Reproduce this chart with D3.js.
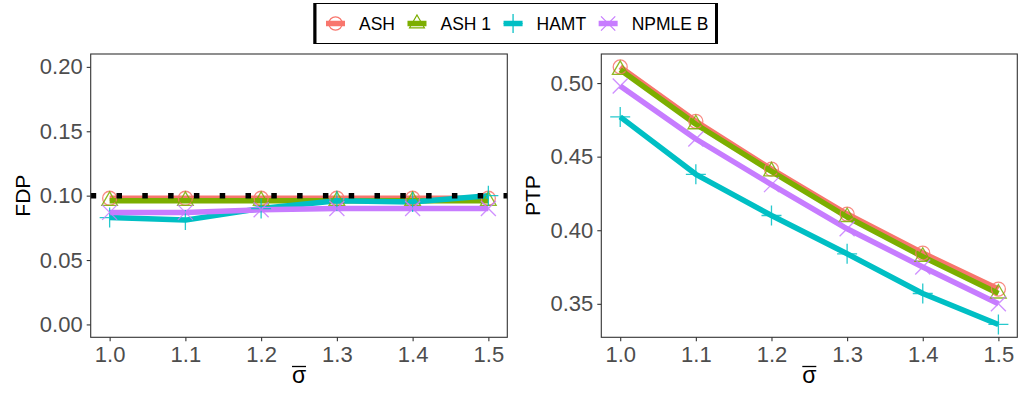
<!DOCTYPE html>
<html>
<head>
<meta charset="utf-8">
<script src="https://cdn.jsdelivr.net/npm/d3@7"></script>
<style>
  body { margin: 0; background: #fff; }
  svg { font-family: "Liberation Sans", Arial, sans-serif; }
</style>
</head>
<body>
<div id="chart"></div>
<script>
// data
const sigmaBar = [1.0, 1.1, 1.2, 1.3, 1.4, 1.5];
const methods = ["ASH", "ASH 1", "HAMT", "NPMLE B"];
const colors = ["#F8766D", "#7CAE00", "#00BFC4", "#C77CFF"];
const shapes = ["circle", "triangle", "plus", "cross"];

const fdpASH = [0.098, 0.098, 0.098, 0.098, 0.098, 0.098];
const fdpASH1 = [0.096, 0.096, 0.096, 0.096, 0.096, 0.096];
const fdpHAMT = [0.083, 0.081, 0.090, 0.096, 0.095, 0.100];
const fdpNPMLE = [0.087, 0.087, 0.089, 0.090, 0.090, 0.090];
const fdpTarget = 0.10;

const ptpASH = [0.511, 0.474, 0.4415, 0.411, 0.3845, 0.360];
const ptpASH1 = [0.509, 0.472, 0.440, 0.409, 0.382, 0.357];
const ptpHAMT = [0.477, 0.438, 0.410, 0.384, 0.357, 0.336];
const ptpNPMLE = [0.498, 0.462, 0.431, 0.401, 0.375, 0.350];

const xTicks = [1.0, 1.1, 1.2, 1.3, 1.4, 1.5];
const fdpTicks = [0.00, 0.05, 0.10, 0.15, 0.20];
const ptpTicks = [0.35, 0.40, 0.45, 0.50];

const W = 1019, H = 395;
const svg = d3.select("#chart").append("svg")
  .attr("width", W).attr("height", H);

function expand(lo, hi) {
  const d = (hi - lo) * 0.05;
  return [lo - d, hi + d];
}

function symbolPath(shape) {
  if (shape === "circle") return d3.arc()({innerRadius: 0, outerRadius: 7, startAngle: 0, endAngle: 2 * Math.PI});
  if (shape === "triangle") return "M0,-9L7.8,4.5L-7.8,4.5Z";
  if (shape === "plus") return "M-10,0L10,0M0,-10L0,10";
  return "M-7.5,-7.5L7.5,7.5M-7.5,7.5L7.5,-7.5";
}

function drawPanel(p) {
  const g = svg.append("g");
  const x = d3.scaleLinear().domain(expand(1.0, 1.5)).range([p.left, p.right]);
  const y = d3.scaleLinear().domain(p.yDomain).range([p.bottom, p.top]);

  // lines
  const line = d3.line().x((d, i) => x(sigmaBar[i])).y(d => y(d));
  p.series.forEach((s, k) => {
    g.append("path").datum(s)
      .attr("d", line)
      .attr("fill", "none")
      .attr("stroke", colors[k])
      .attr("stroke-width", 5.5)
      .attr("stroke-linejoin", "round");
  });
  // points
  p.series.forEach((s, k) => {
    g.selectAll(null).data(s).enter().append("path")
      .attr("d", symbolPath(shapes[k]))
      .attr("transform", (d, i) => `translate(${x(sigmaBar[i])},${y(d)})`)
      .attr("fill", "none")
      .attr("stroke", colors[k])
      .attr("stroke-width", 1.3)
      .attr("opacity", 0.85);
  });

  if (p.hline !== undefined) {
    g.append("line")
      .attr("x1", p.left).attr("x2", p.right)
      .attr("y1", y(p.hline)).attr("y2", y(p.hline))
      .attr("stroke", "#000")
      .attr("stroke-width", 5.5)
      .attr("stroke-dasharray", "5.5,20.3");
  }

  // border
  g.append("rect")
    .attr("x", p.left).attr("y", p.top)
    .attr("width", p.right - p.left).attr("height", p.bottom - p.top)
    .attr("fill", "none").attr("stroke", "#333").attr("stroke-width", 1.1);

  // axes
  const xa = g.append("g")
    .attr("transform", `translate(0,${p.bottom})`)
    .call(d3.axisBottom(x).tickValues(xTicks).tickFormat(d3.format(".1f")).tickSize(4).tickPadding(4));
  const ya = g.append("g")
    .attr("transform", `translate(${p.left},0)`)
    .call(d3.axisLeft(y).tickValues(p.yTicks).tickFormat(d3.format(".2f")).tickSize(4).tickPadding(4));
  [xa, ya].forEach(a => {
    a.select(".domain").remove();
    a.selectAll(".tick line").attr("stroke", "#333").attr("stroke-width", 1.1);
    a.selectAll(".tick text")
      .attr("fill", "#4D4D4D")
      .style("font-family", "'Liberation Sans', Arial, sans-serif")
      .style("font-size", "22px");
  });
  xa.selectAll(".tick text").attr("dy", "0.78em");

  // y title
  g.append("text")
    .attr("transform", `translate(${p.left - 61},${(p.top + p.bottom) / 2}) rotate(-90)`)
    .attr("text-anchor", "middle")
    .attr("fill", "#000")
    .style("font-size", "21px")
    .text(p.yLabel);

  // x title: sigma with bar
  const cx = (p.left + p.right) / 2;
  const sig = g.append("text")
    .attr("x", cx).attr("y", 383)
    .attr("text-anchor", "middle")
    .attr("fill", "#000")
    .style("font-size", "23px")
    .text("σ");
  const bb = sig.node().getBBox();
  g.append("line")
    .attr("x1", cx - 7).attr("x2", cx + 7)
    .attr("y1", 366.5).attr("y2", 366.5)
    .attr("stroke", "#000").attr("stroke-width", 1.3);
}

drawPanel({
  left: 90.7, right: 507.3, top: 54, bottom: 337.3,
  yDomain: expand(0, 0.2), yTicks: fdpTicks, yLabel: "FDP",
  series: [fdpASH, fdpASH1, fdpHAMT, fdpNPMLE], hline: fdpTarget
});

const ptpAll = [].concat(ptpASH, ptpASH1, ptpHAMT, ptpNPMLE);
drawPanel({
  left: 601.3, right: 1017.3, top: 54, bottom: 337.3,
  yDomain: expand(d3.min(ptpAll), d3.max(ptpAll)), yTicks: ptpTicks, yLabel: "PTP",
  series: [ptpASH, ptpASH1, ptpHAMT, ptpNPMLE]
});

// legend
const leg = svg.append("g");
leg.append("rect")
  .attr("x", 314).attr("y", 3.5).attr("width", 403).attr("height", 40)
  .attr("fill", "#fff").attr("stroke", "#000").attr("stroke-width", 1);
leg.append("line").attr("x1", 315).attr("x2", 315).attr("y1", 3).attr("y2", 44)
  .attr("stroke", "#000").attr("stroke-width", 3);
leg.append("line").attr("x1", 716.5).attr("x2", 716.5).attr("y1", 3).attr("y2", 44)
  .attr("stroke", "#000").attr("stroke-width", 3);

let kx = 326;
methods.forEach((m, k) => {
  const item = leg.append("g").attr("transform", `translate(${kx},23.5)`);
  item.append("line").attr("x1", 0).attr("x2", 19)
    .attr("stroke", colors[k]).attr("stroke-width", 5.5);
  item.append("path")
    .attr("d", symbolPath(shapes[k]))
    .attr("transform", "translate(9.5,0) scale(0.95)")
    .attr("fill", "none").attr("stroke", colors[k]).attr("stroke-width", 1.3);
  const t = item.append("text")
    .attr("x", 33).attr("y", 6.5)
    .attr("fill", "#000")
    .style("font-size", "17.5px")
    .text(m);
  kx += 33 + t.node().getComputedTextLength() + 12.5;
});
</script>
</body>
</html>
